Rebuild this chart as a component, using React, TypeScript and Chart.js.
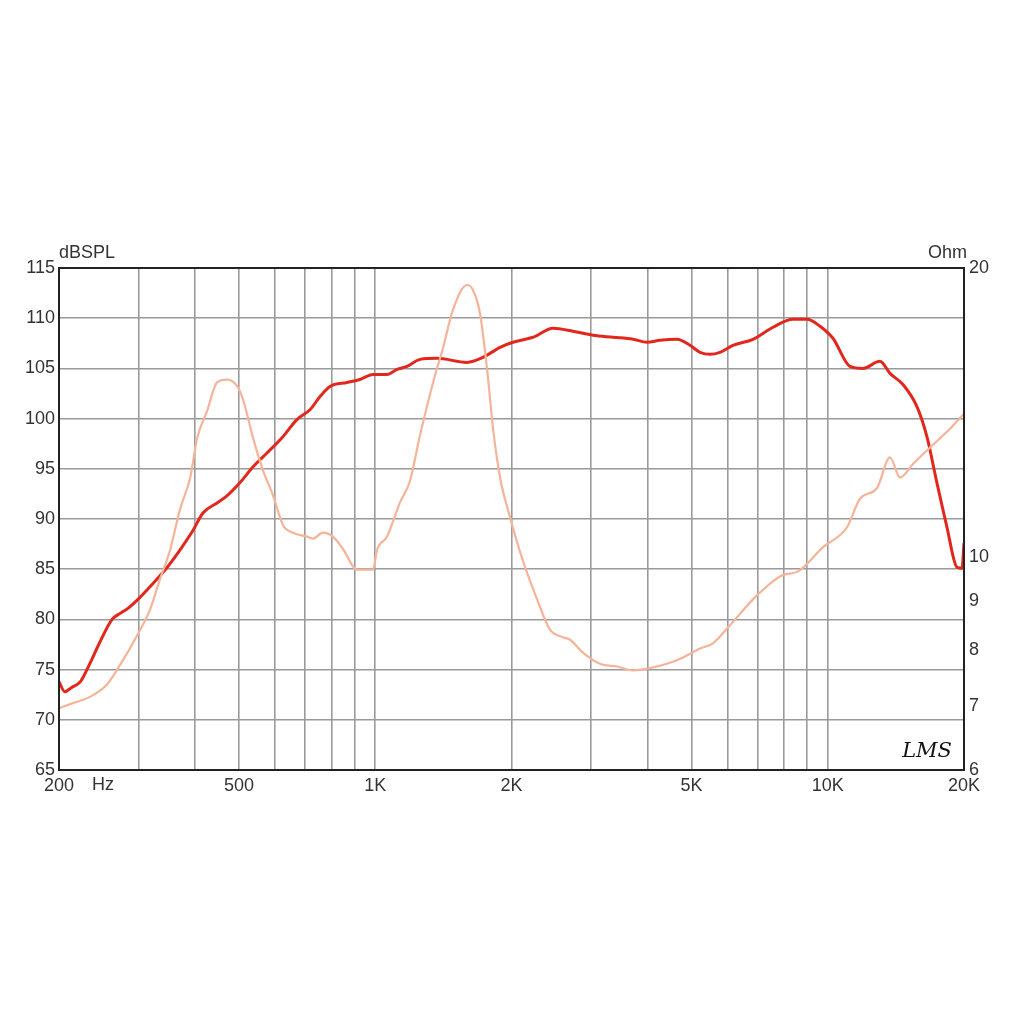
import React, { useEffect, useRef } from "react";
import { Chart, registerables } from "chart.js";

Chart.register(...registerables);

// SPL response (dB) — red curve
const splFreqs = [200, 206, 213, 223, 234, 246, 262, 273, 284, 302, 323, 347, 370, 396, 416, 447, 470, 502, 537, 577, 625, 671, 718, 755, 794, 866, 925, 988, 1061, 1117, 1175, 1256, 1369, 1595, 1730, 1887, 2015, 2231, 2470, 2735, 3028, 3352, 3711, 3986, 4258, 4643, 4960, 5220, 5491, 5778, 6171, 6834, 7567, 8377, 8995, 9612, 10266, 11195, 11961, 13043, 13723, 14660, 15741, 16560, 17426, 18336, 19296, 19797, 20000];
const splValues = [73.8, 72.8, 73.2, 73.8, 75.6, 77.7, 80, 80.6, 81.1, 82.2, 83.6, 85.2, 86.9, 88.9, 90.6, 91.6, 92.3, 93.6, 95.2, 96.6, 98.2, 99.9, 100.9, 102.2, 103.2, 103.6, 103.9, 104.4, 104.4, 104.9, 105.2, 105.9, 106, 105.6, 106.1, 107.1, 107.6, 108.1, 109, 108.7, 108.3, 108.1, 107.9, 107.6, 107.8, 107.9, 107.3, 106.6, 106.4, 106.6, 107.3, 107.9, 109.1, 109.9, 109.9, 109.2, 108, 105.2, 105, 105.7, 104.5, 103.4, 101.2, 98.2, 93.6, 89.2, 85.2, 85.1, 87.6];

// Impedance (Ohm) — pale curve
const impFreqs = [200, 214, 234, 255, 277, 297, 318, 334, 352, 370, 390, 404, 425, 447, 470, 495, 510, 537, 565, 594, 625, 658, 707, 728, 766, 806, 848, 911, 988, 1009, 1061, 1134, 1193, 1256, 1342, 1411, 1485, 1595, 1644, 1705, 1766, 1821, 1887, 1985, 2121, 2277, 2433, 2600, 2694, 2877, 3138, 3421, 3711, 3986, 4413, 4787, 5220, 5575, 6078, 6974, 7962, 8551, 9762, 11030, 11781, 12845, 13723, 14440, 15427, 16820, 18622, 20000];
const impValues = [6.96, 7.04, 7.15, 7.36, 7.81, 8.27, 8.82, 9.47, 10.17, 11.2, 12.1, 13.3, 14.2, 15.2, 15.3, 15.07, 14.6, 13.3, 12.3, 11.6, 10.8, 10.6, 10.5, 10.45, 10.6, 10.5, 10.2, 9.7, 9.7, 10.17, 10.5, 11.4, 12.0, 13.4, 15.2, 16.5, 18.1, 19.2, 18.97, 17.9, 15.7, 13.6, 12.1, 11.0, 9.9, 9.04, 8.4, 8.25, 8.2, 7.95, 7.74, 7.69, 7.62, 7.65, 7.74, 7.86, 8.03, 8.13, 8.49, 9.12, 9.58, 9.65, 10.24, 10.74, 11.5, 11.8, 12.7, 12.1, 12.5, 13.0, 13.6, 14.1];

const xGridTicks = [200, 300, 400, 500, 600, 700, 800, 900, 1000, 2000, 3000, 4000, 5000, 6000, 7000, 8000, 9000, 10000, 20000];
const xTickLabels: Record<number, string> = { 200: "200", 500: "500", 1000: "1K", 2000: "2K", 5000: "5K", 10000: "10K", 20000: "20K" };
const ohmTicks = [6, 7, 8, 9, 10, 20];

const FONT = "'Liberation Sans', Arial, sans-serif";
const GRID = "#9a9a9a";
const TEXT = "#333333";
const FS = 18;

export default function App() {
  const ref = useRef<HTMLCanvasElement | null>(null);

  useEffect(() => {
    if (!ref.current) return;
    const textPlugin = {
      id: "extraText",
      afterDatasetsDraw(chart: any) {
        const { ctx, chartArea } = chart;
        ctx.save();
        ctx.strokeStyle = "#222";
        ctx.lineWidth = 2;
        ctx.strokeRect(chartArea.left, chartArea.top, chartArea.right - chartArea.left, chartArea.bottom - chartArea.top);
        ctx.fillStyle = TEXT;
        ctx.font = `${FS}px ${FONT}`;
        ctx.textBaseline = "middle";
        ctx.textAlign = "left";
        ctx.fillText("dBSPL", chartArea.left, chartArea.top - 15);
        ctx.textAlign = "right";
        ctx.fillText("Ohm", chartArea.right + 3, chartArea.top - 15);
        ctx.textAlign = "left";
        ctx.fillText("Hz", 92, chartArea.bottom + 15);
        ctx.font = `italic 21px 'DejaVu Serif', serif`;
        ctx.fillStyle = "#111";
        ctx.textAlign = "right";
        ctx.fillText("LMS", chartArea.right - 12, chartArea.bottom - 18);
        ctx.restore();
      },
    };

    const chart = new Chart(ref.current, {
      type: "line",
      data: {
        datasets: [
          {
            label: "Impedance",
            data: impFreqs.map((f, i) => ({ x: f, y: impValues[i] })),
            borderColor: "#f5b49a",
            borderWidth: 2.2,
            pointRadius: 0,
            cubicInterpolationMode: "monotone",
            yAxisID: "yOhm",
          },
          {
            label: "SPL",
            data: splFreqs.map((f, i) => ({ x: f, y: splValues[i] })),
            borderColor: "#e2271c",
            borderWidth: 3,
            pointRadius: 0,
            cubicInterpolationMode: "monotone",
            yAxisID: "y",
          },
        ],
      },
      options: {
        responsive: false,
        animation: false,
        layout: { padding: { top: 268, left: 0, right: 0, bottom: 0 } },
        plugins: { legend: { display: false }, tooltip: { enabled: false } },
        scales: {
          x: {
            type: "logarithmic",
            min: 200,
            max: 20000,
            afterBuildTicks: (s: any) => {
              s.ticks = xGridTicks.map((v) => ({ value: v }));
            },
            afterFit: (s: any) => {
              s.height = 254;
            },
            ticks: {
              autoSkip: false,
              maxRotation: 0,
              padding: 5,
              color: TEXT,
              font: { size: FS, family: FONT },
              callback: (v: any) => xTickLabels[Number(v)] ?? "",
            },
            grid: { color: GRID, lineWidth: 1.6, drawTicks: false },
            border: { display: true, color: "#222", width: 2 },
          },
          y: {
            type: "linear",
            position: "left",
            min: 65,
            max: 115,
            afterFit: (s: any) => {
              s.width = 59;
            },
            ticks: { stepSize: 5, padding: 4, color: TEXT, font: { size: FS, family: FONT } },
            grid: { color: GRID, lineWidth: 1.6, drawTicks: false },
            border: { display: true, color: "#222", width: 2 },
          },
          yOhm: {
            type: "logarithmic",
            position: "right",
            min: 6,
            max: 20,
            afterBuildTicks: (s: any) => {
              s.ticks = ohmTicks.map((v) => ({ value: v }));
            },
            afterFit: (s: any) => {
              s.width = 60;
            },
            ticks: {
              autoSkip: false,
              padding: 5,
              color: TEXT,
              font: { size: FS, family: FONT },
              callback: (v: any) => String(v),
            },
            grid: { display: false, drawTicks: false },
            border: { display: true, color: "#222", width: 2 },
          },
        },
      },
      plugins: [textPlugin],
    } as any);
    return () => chart.destroy();
  }, []);

  return (
    <div style={{ position: "absolute", left: 0, top: 0, width: 1024, height: 1024, background: "#fff" }}>
      <canvas ref={ref} width={1024} height={1024} style={{ display: "block" }} />
    </div>
  );
}
